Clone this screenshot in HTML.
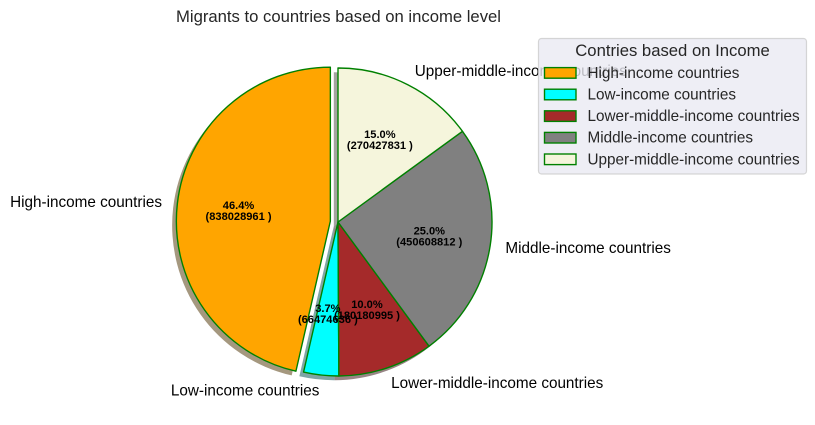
<!DOCTYPE html>
<html>
<head>
<meta charset="utf-8">
<style>
html,body{margin:0;padding:0;background:#fff;width:815px;height:425px;overflow:hidden}
svg{display:block;font-family:"Liberation Sans",Arial,sans-serif}
</style>
</head>
<body>
<svg id="chart" width="815" height="425" viewBox="0 0 815 425" xmlns="http://www.w3.org/2000/svg">
  <text x="338.5" y="22" text-anchor="middle" font-size="16.67" fill="#262626">Migrants to countries based on income level</text>
  <g id="shadows"></g>
  <g id="wedges"></g>
  <g id="labels"></g>
  <g id="pcts"></g>
  <g id="legend">
    <rect x="538.5" y="38.5" width="268" height="135.5" rx="3" ry="3" fill="#eaeaf2" fill-opacity="0.8" stroke="#cccccc" stroke-opacity="0.8" stroke-width="1.2"></rect>
    <text x="672.5" y="56" text-anchor="middle" font-size="16.67" fill="#262626">Contries based on Income</text>
  </g>
</svg>
<script>
const categories = ["High-income countries", "Low-income countries", "Lower-middle-income countries", "Middle-income countries", "Upper-middle-income countries"];
const seriesValues = [838028961, 66474636, 180180995, 450608812, 270427831];
const explodeFractions = [0.05, 0, 0, 0, 0];
const sliceColors = ["#ffa500", "#00ffff", "#a52a2a", "#808080", "#f5f5dc"];
const shadowColors = ["#4c3200", "#004c4c", "#320c0c", "#262626", "#4a4a42"];

const NS = "http://www.w3.org/2000/svg";
const cx = 338, cy = 222, R = 154;
const startAngle = 90;
const total = seriesValues.reduce((a, b) => a + b, 0);

function angleScale(fraction) { return startAngle + fraction * 360; }
function px(ox, r, deg) { return ox + r * Math.cos(deg * Math.PI / 180); }
function py(oy, r, deg) { return oy - r * Math.sin(deg * Math.PI / 180); }
function wedgePath(ox, oy, a0, a1) {
  const large = (a1 - a0) > 180 ? 1 : 0;
  return "M" + ox + " " + oy +
    "L" + px(ox, R, a0) + " " + py(oy, R, a0) +
    "A" + R + " " + R + " 0 " + large + " 0 " + px(ox, R, a1) + " " + py(oy, R, a1) + "Z";
}

const shadowsG = document.getElementById("shadows");
const wedgesG = document.getElementById("wedges");
const labelsG = document.getElementById("labels");
const pctsG = document.getElementById("pcts");
const legendG = document.getElementById("legend");

let cumulative = 0;
seriesValues.forEach(function (value, i) {
  const frac = value / total;
  const a0 = angleScale(cumulative);
  const a1 = angleScale(cumulative + frac);
  const mid = (a0 + a1) / 2;
  cumulative += frac;
  const ox = px(cx, explodeFractions[i] * R, mid);
  const oy = py(cy, explodeFractions[i] * R, mid);

  const shadow = document.createElementNS(NS, "path");
  shadow.setAttribute("d", wedgePath(ox - 4.2, oy + 4.2, a0, a1));
  shadow.setAttribute("fill", shadowColors[i]);
  shadow.setAttribute("fill-opacity", "0.5");
  
  
  shadowsG.appendChild(shadow);

  const wedge = document.createElementNS(NS, "path");
  wedge.setAttribute("d", wedgePath(ox, oy, a0, a1));
  wedge.setAttribute("fill", sliceColors[i]);
  wedge.setAttribute("stroke", "#008000");
  wedge.setAttribute("stroke-width", "1.39");
  wedge.setAttribute("stroke-linejoin", "round");
  
  
  wedgesG.appendChild(wedge);

  const lx = px(ox, 1.1 * R, mid);
  const ly = py(oy, 1.1 * R, mid);
  const label = document.createElementNS(NS, "text");
  label.setAttribute("x", lx);
  label.setAttribute("y", ly + 5);
  label.setAttribute("font-size", "15.28");
  label.setAttribute("fill", "#000");
  label.setAttribute("text-anchor", lx > cx ? "start" : "end");
  
  
  label.textContent = categories[i];
  labelsG.appendChild(label);

  const tx = px(ox, 0.6 * R, mid);
  const ty = py(oy, 0.6 * R, mid);
  const pct1 = document.createElementNS(NS, "text");
  pct1.setAttribute("x", tx);
  pct1.setAttribute("y", ty - 1.7);
  pct1.setAttribute("font-size", "11.1");
  pct1.setAttribute("font-weight", "bold");
  pct1.setAttribute("fill", "#000");
  pct1.setAttribute("text-anchor", "middle");
  
  
  pct1.textContent = (frac * 100).toFixed(1) + "%";
  pctsG.appendChild(pct1);

  const pct2 = document.createElementNS(NS, "text");
  pct2.setAttribute("x", tx);
  pct2.setAttribute("y", ty + 9.3);
  pct2.setAttribute("font-size", "11.1");
  pct2.setAttribute("font-weight", "bold");
  pct2.setAttribute("fill", "#000");
  pct2.setAttribute("text-anchor", "middle");
  
  
  pct2.textContent = "(" + value + " )";
  pctsG.appendChild(pct2);

  const rowY = 72.9 + i * 21.6;
  const swatch = document.createElementNS(NS, "rect");
  swatch.setAttribute("x", 544.5);
  swatch.setAttribute("y", rowY - 5.3);
  swatch.setAttribute("width", 31.5);
  swatch.setAttribute("height", 10.6);
  swatch.setAttribute("fill", sliceColors[i]);
  swatch.setAttribute("stroke", "#008000");
  swatch.setAttribute("stroke-width", "1.39");
  
  
  legendG.appendChild(swatch);

  const entry = document.createElementNS(NS, "text");
  entry.setAttribute("x", 587.5);
  entry.setAttribute("y", rowY + 5);
  entry.setAttribute("font-size", "15.28");
  entry.setAttribute("fill", "#262626");
  
  
  entry.textContent = categories[i];
  legendG.appendChild(entry);
});
</script>
</body>
</html>
